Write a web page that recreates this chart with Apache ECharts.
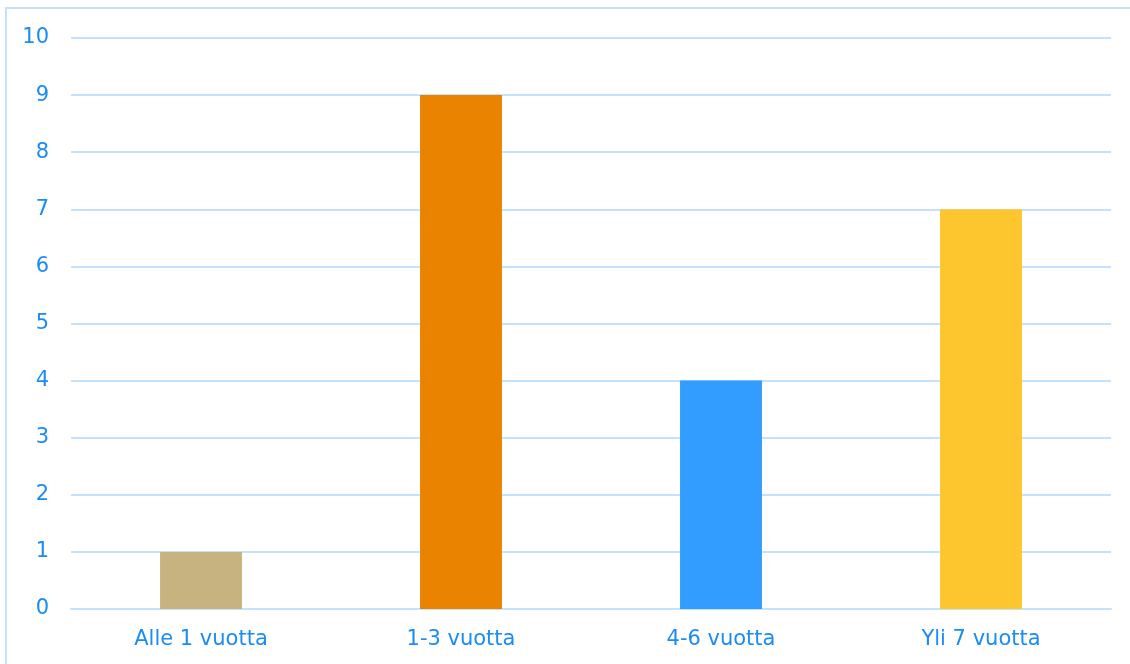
<!DOCTYPE html>
<html>
<head>
<meta charset="utf-8">
<script src="https://cdn.jsdelivr.net/npm/echarts@6/dist/echarts.min.js"></script>
<style>
html,body{margin:0;padding:0;background:#fff;}
#chart{width:1130px;height:664px;}
</style>
</head>
<body>
<div id="chart"></div>
<script>
const categories = ['Alle 1 vuotta', '1-3 vuotta', '4-6 vuotta', 'Yli 7 vuotta'];
const values = [1, 9, 4, 7];
const barColors = ['#c6b380', '#e98300', '#339cff', '#fdc62f'];

const chart = echarts.init(document.getElementById('chart'), null, {renderer: 'canvas'});
const textColor = '#1a8cf5';
const lineColor = '#c4e2fb';
chart.setOption({
  animation: false,
  backgroundColor: '#fff',
  graphic: [{
    type: 'rect',
    shape: {x: 6, y: 8, width: 1300, height: 800},
    style: {fill: 'none', stroke: lineColor, lineWidth: 2},
    silent: true
  }],
  grid: {left: 71, right: 19, top: 38, bottom: 55, containLabel: false},
  xAxis: {
    type: 'category',
    data: categories,
    axisLine: {show: true, lineStyle: {color: lineColor, width: 2}},
    axisTick: {show: false},
    axisLabel: {color: textColor, fontFamily: 'DejaVu Sans', fontSize: 21, margin: 20}
  },
  yAxis: {
    type: 'value',
    min: 0, max: 10, interval: 1,
    axisLine: {show: false},
    axisTick: {show: false},
    splitLine: {lineStyle: {color: lineColor, width: 2}},
    axisLabel: {color: textColor, fontFamily: 'DejaVu Sans', fontSize: 21, margin: 22, padding: [2, 0, 0, 0]}
  },
  series: [{
    type: 'bar',
    data: values.map((v, i) => ({value: v, itemStyle: {color: barColors[i]}})),
    barWidth: '31.5%'
  }]
});
</script>
</body>
</html>
